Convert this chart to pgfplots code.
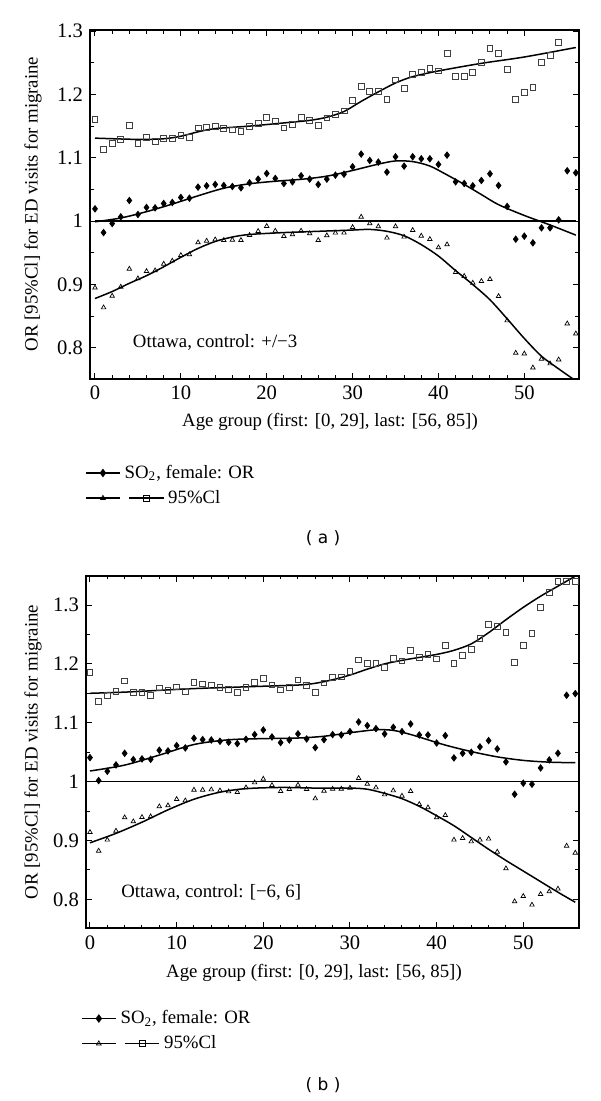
\documentclass[border=0pt]{standalone}
\usepackage{fontspec}
\setmainfont{Liberation Serif}
\newfontfamily\capfont{DejaVu Sans}
\usepackage{pgfplots}
\pgfplotsset{compat=1.18}

\pgfplotsset{
  myax/.style={
    scale only axis,
    axis line style={line width=0.9pt},
    tick style={black, line width=0.5pt},
    tick align=inside,
    major tick length=3pt, minor tick length=1.8pt,
    xtick={0,10,...,50}, minor x tick num=4,
    ytick={0.8,0.9,1,1.1,1.2,1.3},
    yticklabels={0.8,0.9,1,1.1,1.2,1.3},
    minor y tick num=1,
    tick label style={font=\fontsize{10.3}{11}\selectfont},
    /pgf/number format/assume math mode=true,
    legend cell align=left,
    legend columns=2,
    legend style={draw=none, fill=none, font=\fontsize{9.4}{10}\selectfont,
      anchor=north west, row sep=0.5pt,
      /tikz/every even column/.append style={column sep=0pt}},
  },
  orm/.style={only marks, mark=diamond*, mark size=1.6pt, black, forget plot},
  lom/.style={only marks, mark=triangle, mark size=1.3pt, black, mark options={line width=0.35pt}, forget plot},
  upm/.style={only marks, mark=square, mark size=1.45pt, black!75, mark options={line width=0.4pt}, forget plot},
  fit/.style={black, line width=0.75pt, smooth, no marks, forget plot},
}

\begin{document}
\begin{tikzpicture}
\useasboundingbox (0,0) rectangle (300pt,-550.5pt);

% ---------------- Panel (a) ----------------
\begin{axis}[myax, at={(45pt,-189.5pt)}, anchor=south west,
  width=244.5pt, height=174.5pt,
  xmin=-0.582, xmax=56.37, ymin=0.751, ymax=1.3016,
  legend style={at={(axis description cs:-0.023,-0.222)}}]
\addplot[upm] coordinates {
(0,1.1605)(1,1.1126)(2,1.1226)(3,1.129)(4,1.1516)(5,1.1226)(6,1.132)(7,1.126)(8,1.131)(9,1.130)
(10,1.135)(11,1.1316)(12,1.147)(13,1.148)(14,1.149)(15,1.146)(16,1.144)(17,1.141)(18,1.149)(19,1.154)
(20,1.164)(21,1.157)(22,1.147)(23,1.153)(24,1.1637)(25,1.159)(26,1.1516)(27,1.163)(28,1.169)(29,1.174)
(30,1.1905)(31,1.213)(32,1.205)(33,1.205)(34,1.192)(35,1.223)(36,1.209)(37,1.2316)(38,1.235)(39,1.2405)
(40,1.237)(41,1.265)(42,1.228)(43,1.229)(44,1.235)(45,1.2505)(46,1.273)(47,1.265)(48,1.240)(49,1.1926)
(50,1.2037)(51,1.2116)(52,1.251)(53,1.261)(54,1.282)};
\addplot[orm] coordinates {
(0,1.0195)(1,0.982)(2,0.9963)(3,1.0068)(4,1.0326)(5,1.0105)(6,1.0216)(7,1.021)(8,1.0279)(9,1.0295)
(10,1.0374)(11,1.0363)(12,1.0537)(13,1.0558)(14,1.0579)(15,1.0563)(16,1.0547)(17,1.0526)(18,1.0605)(19,1.0663)
(20,1.0753)(21,1.0674)(22,1.0595)(23,1.062)(24,1.0716)(25,1.0663)(26,1.0579)(27,1.0663)(28,1.0726)(29,1.0742)
(30,1.0858)(31,1.1058)(32,1.0958)(33,1.0932)(34,1.0774)(35,1.1016)(36,1.0868)(37,1.1016)(38,1.0984)(39,1.0984)
(40,1.0895)(41,1.1042)(42,1.062)(43,1.0595)(44,1.0558)(45,1.0642)(46,1.0747)(47,1.0563)(48,1.0232)(49,0.9716)
(50,0.9763)(51,0.9658)(52,0.9895)(53,0.9895)(54,1.0021)(55,1.0795)(56,1.0763)};
\addplot[lom] coordinates {
(0,0.895)(1,0.8637)(2,0.882)(3,0.8963)(4,0.9247)(5,0.9095)(6,0.921)(7,0.9221)(8,0.9326)(9,0.9374)
(10,0.9463)(11,0.9474)(12,0.9663)(13,0.9689)(14,0.971)(15,0.970)(16,0.9705)(17,0.970)(18,0.9779)(19,0.9842)
(20,0.9921)(21,0.9847)(22,0.9763)(23,0.9789)(24,0.9847)(25,0.9805)(26,0.970)(27,0.9774)(28,0.9816)(29,0.9816)
(30,0.9905)(31,1.0068)(32,0.9963)(33,0.9916)(34,0.9737)(35,0.9916)(36,0.9753)(37,0.9858)(38,0.9768)(39,0.9716)
(40,0.9584)(41,0.9632)(42,0.9195)(43,0.9132)(44,0.9026)(45,0.9053)(46,0.9084)(47,0.8816)(48,0.8432)(49,0.7921)
(50,0.791)(51,0.7689)(52,0.7826)(53,0.7753)(54,0.7816)(55,0.8384)(56,0.8226)};
\addplot[fit] coordinates {
(0,1.131)(5,1.129)(8,1.130)(10,1.134)(12,1.141)(14,1.146)(18,1.150)(22,1.155)(25,1.159)(27,1.164)
(29,1.173)(31,1.189)(33,1.204)(35,1.218)(37,1.228)(40,1.237)(45,1.249)(50,1.259)(56,1.274)};
\addplot[fit] coordinates {
(0,0.999)(3,1.005)(6,1.015)(9,1.027)(12,1.040)(15,1.052)(18,1.059)(21,1.063)(24,1.066)(27,1.071)
(30,1.080)(33,1.090)(35,1.095)(37,1.094)(39,1.087)(41,1.073)(43,1.058)(45,1.042)(47,1.026)(50,1.009)
(53,0.994)(56,0.978)};
\addplot[fit] coordinates {
(0,0.878)(2,0.889)(4,0.902)(6,0.914)(8,0.928)(10,0.943)(12,0.957)(14,0.968)(16,0.975)(18,0.979)
(22,0.982)(26,0.984)(30,0.986)(32,0.987)(34,0.984)(36,0.977)(38,0.963)(40,0.945)(42,0.922)(44,0.900)
(46,0.876)(48,0.846)(50,0.815)(52,0.787)(54,0.767)(56,0.748)};
\addplot[black, line width=0.75pt, no marks, forget plot] coordinates {(0,1)(56,1)};
\node[anchor=west, font=\fontsize{9.4}{10}\selectfont] at (axis cs:3.6,0.808) {Ottawa, control: +/−3};
\addlegendimage{black, line width=0.7pt, mark=diamond*, mark size=1.6pt}
\addlegendentry{\rlap{SO\textsubscript{2}, female: OR}}
\addlegendimage{empty legend}
\addlegendentry{}
\addlegendimage{black, line width=0.7pt, mark=triangle, mark size=1.4pt, mark options={line width=0.35pt}}
\addlegendentry{}
\addlegendimage{black, line width=0.7pt, mark=square, mark size=1.45pt, mark options={line width=0.4pt}}
\addlegendentry{95\%Cl}
\end{axis}

% ---------------- Panel (b) ----------------
\begin{axis}[myax, at={(43pt,-464.15pt)}, anchor=south west,
  width=246.5pt, height=176.3pt,
  xmin=-0.46, xmax=56.43, ymin=0.7507, ymax=1.3498,
  legend style={at={(axis description cs:-0.023,-0.209)}}]
\addplot[upm] coordinates {
(0,1.185)(1,1.1364)(2,1.147)(3,1.1534)(4,1.171)(5,1.152)(6,1.151)(7,1.1466)(8,1.159)(9,1.155)
(10,1.161)(11,1.1534)(12,1.168)(13,1.1658)(14,1.1636)(15,1.1596)(16,1.156)(17,1.1517)(18,1.1596)(19,1.168)
(20,1.1754)(21,1.1641)(22,1.1556)(23,1.160)(24,1.1726)(25,1.164)(26,1.1517)(27,1.1675)(28,1.177)(29,1.178)
(30,1.1868)(31,1.2066)(32,1.201)(33,1.2003)(34,1.1935)(35,1.2094)(36,1.2049)(37,1.223)(38,1.211)(39,1.2156)
(40,1.2083)(41,1.2315)(42,1.201)(43,1.214)(44,1.2252)(45,1.2428)(46,1.2666)(47,1.2643)(48,1.2535)(49,1.202)
(50,1.232)(51,1.2513)(52,1.2965)(53,1.321)(54,1.340)(55,1.340)(56,1.340)};
\addplot[orm] coordinates {
(0,1.0407)(1,1.0017)(2,1.0175)(3,1.0283)(4,1.0481)(5,1.0374)(6,1.0385)(7,1.0379)(8,1.0532)(9,1.0521)
(10,1.0611)(11,1.0572)(12,1.0736)(13,1.0713)(14,1.0707)(15,1.0685)(16,1.0668)(17,1.0645)(18,1.0719)(19,1.0798)
(20,1.0877)(21,1.0758)(22,1.0662)(23,1.0707)(24,1.081)(25,1.0724)(26,1.0577)(27,1.0713)(28,1.0798)(29,1.0792)
(30,1.0849)(31,1.1013)(32,1.0951)(33,1.090)(34,1.081)(35,1.0922)(36,1.0849)(37,1.0979)(38,1.0792)(39,1.0792)
(40,1.0656)(41,1.0781)(42,1.0402)(43,1.0481)(44,1.0498)(45,1.0589)(46,1.0696)(47,1.0555)(48,1.0334)(49,0.9785)
(50,0.9972)(51,0.9955)(52,1.0232)(53,1.0368)(54,1.0481)(55,1.1466)(56,1.1494)};
\addplot[lom] coordinates {
(0,0.914)(1,0.8823)(2,0.901)(3,0.9162)(4,0.9389)(5,0.9321)(6,0.9394)(7,0.9406)(8,0.9576)(9,0.9593)
(10,0.970)(11,0.9677)(12,0.9859)(13,0.9859)(14,0.9864)(15,0.9847)(16,0.983)(17,0.9819)(18,0.9898)(19,0.9983)
(20,1.0045)(21,0.9938)(22,0.9836)(23,0.987)(24,0.9943)(25,0.987)(26,0.9711)(27,0.9842)(28,0.9875)(29,0.9875)
(30,0.9892)(31,1.0057)(32,0.996)(33,0.9898)(34,0.9779)(35,0.9847)(36,0.9757)(37,0.9836)(38,0.9615)(39,0.9559)
(40,0.9389)(41,0.9428)(42,0.901)(43,0.9038)(44,0.8981)(45,0.901)(46,0.9027)(47,0.8806)(48,0.8523)(49,0.7963)
(50,0.8053)(51,0.7906)(52,0.8087)(53,0.8132)(54,0.8178)(55,0.8908)(56,0.8789)};
\addplot[fit] coordinates {
(0,1.150)(4,1.152)(8,1.155)(12,1.158)(16,1.160)(20,1.162)(24,1.164)(26,1.167)(28,1.173)(30,1.181)
(32,1.191)(34,1.200)(36,1.206)(38,1.211)(40,1.216)(42,1.223)(44,1.234)(46,1.253)(48,1.275)(50,1.296)
(52,1.315)(54,1.332)(56,1.349)};
\addplot[fit] coordinates {
(0,1.018)(4,1.028)(8,1.045)(12,1.063)(16,1.071)(20,1.073)(24,1.074)(27,1.077)(30,1.083)(33,1.088)
(35,1.087)(37,1.080)(39,1.071)(41,1.062)(44,1.051)(47,1.042)(50,1.036)(53,1.033)(56,1.032)};
\addplot[fit] coordinates {
(0,0.896)(3,0.912)(6,0.931)(9,0.952)(12,0.970)(15,0.982)(18,0.988)(22,0.990)(26,0.989)(30,0.989)
(32,0.987)(34,0.980)(36,0.971)(38,0.958)(40,0.942)(42,0.925)(44,0.905)(46,0.885)(48,0.866)(50,0.848)
(52,0.830)(54,0.812)(56,0.795)};
\addplot[black, line width=0.75pt, no marks, forget plot] coordinates {(0,1)(56,1)};
\node[anchor=west, font=\fontsize{9.4}{10}\selectfont] at (axis cs:2.8,0.812) {Ottawa, control: [−6, 6]};
\addlegendimage{black, line width=0.7pt, mark=diamond*, mark size=1.6pt}
\addlegendentry{\rlap{SO\textsubscript{2}, female: OR}}
\addlegendimage{empty legend}
\addlegendentry{}
\addlegendimage{black, line width=0.7pt, mark=triangle, mark size=1.4pt, mark options={line width=0.35pt}}
\addlegendentry{}
\addlegendimage{black, line width=0.7pt, mark=square, mark size=1.45pt, mark options={line width=0.4pt}}
\addlegendentry{95\%Cl}
\end{axis}

% axis labels
\node[rotate=90, font=\fontsize{9.4}{10}\selectfont] at (16.5pt,-102pt) {OR [95\%Cl] for ED visits for migraine};
\node[font=\fontsize{9.4}{10}\selectfont] at (165pt,-211pt) {Age group (first: [0, 29], last: [56, 85])};
\node[rotate=90, font=\fontsize{9.4}{10}\selectfont] at (16.5pt,-376pt) {OR [95\%Cl] for ED visits for migraine};
\node[font=\fontsize{9.4}{10}\selectfont] at (157pt,-486.5pt) {Age group (first: [0, 29], last: [56, 85])};
% panel captions
\node[font=\capfont\fontsize{8.5}{10}\selectfont] at (161.5pt,-269pt) {( a )};
\node[font=\capfont\fontsize{8.5}{10}\selectfont] at (161.5pt,-542.5pt) {( b )};
\end{tikzpicture}
\end{document}
